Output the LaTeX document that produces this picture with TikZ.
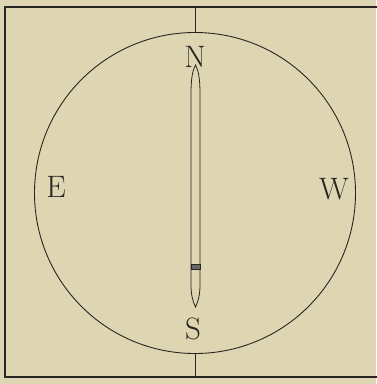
\documentclass[tikz,border=0pt]{standalone}
\usepackage{tikz}
\usetikzlibrary{positioning,calc}
\definecolor{paper}{RGB}{222,214,178}
\definecolor{ink}{RGB}{40,38,34}

\begin{document}
\begin{tikzpicture}[x=1pt,y=-1pt,line width=0.9pt,
  every node/.style={font=\fontsize{31}{31}\selectfont,text=ink},
  letter/.style={inner sep=0pt}]
\fill[paper] (0,0) rectangle (376,384);
\useasboundingbox (0,0) rectangle (376,384);
% frame and the dial
\coordinate (tl) at (5,7);
\coordinate (tr) at (378,7);
\coordinate (bl) at (5,377);
\coordinate (br) at (378,377);
\draw[ink,line width=1.1pt] (tr) -- (tl) -- (bl) -- (br);
\node (dial) [circle,draw=ink,minimum size=321pt,inner sep=0pt] at (195,193) {};
\draw[ink] (dial.north) -- (dial.north |- tl);
\draw[ink] (dial.south) -- (dial.south |- bl);
% needle
\draw[ink,line width=0.8pt] (195.5,65) .. controls (192,72) and (191,80) .. (191,95)
  -- (191,285) .. controls (191,295) and (193,302) .. (195.5,307)
  .. controls (198,302) and (200,295) .. (200,285)
  -- (200,95) .. controls (200,80) and (199,72) .. (195.5,65) -- cycle;
\draw[ink,fill=ink!70] (191,264) rectangle (200,269);
% letters
\node[letter] (n) at (195,57) {N};
\node[letter] (s) at (193,329) {S};
\node[letter] (e) at (56,187) {E};
\node[letter] (w) at (334,189) {W};
\end{tikzpicture}
\end{document}
